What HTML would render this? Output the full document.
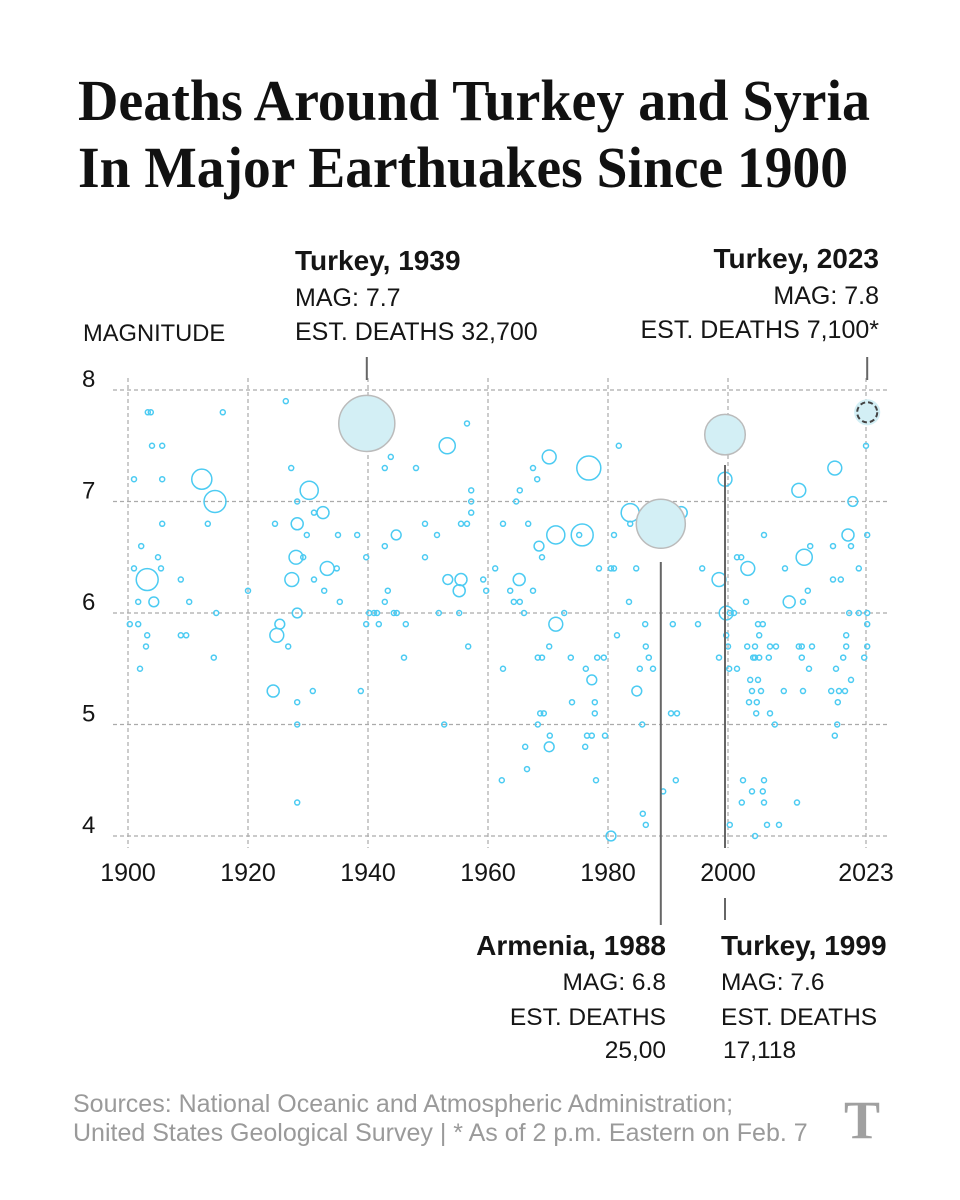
<!DOCTYPE html>
<html><head><meta charset="utf-8"><style>
html,body{margin:0;padding:0;background:#fff;}
svg{display:block;}
.t{font-family:"Liberation Sans",sans-serif;fill:#151515;}
</style></head><body>
<svg id="c" width="960" height="1200" viewBox="0 0 960 1200">
<text x="78" y="120" textLength="792" lengthAdjust="spacingAndGlyphs" style="font-family:'Liberation Serif',serif;font-weight:bold;font-size:58px;fill:#111">Deaths Around Turkey and Syria</text>
<text x="78" y="187" textLength="770" lengthAdjust="spacingAndGlyphs" style="font-family:'Liberation Serif',serif;font-weight:bold;font-size:58px;fill:#111">In Major Earthuakes Since 1900</text>
<g id="grid"></g>
<g id="ticks"></g>
<text class="t" x="83" y="341" font-size="23.7">MAGNITUDE</text>
<g id="pts"></g>
<g id="ann">
<text class="t" x="295" y="270" font-size="28" font-weight="bold">Turkey, 1939</text>
<text class="t" x="295" y="306" font-size="25">MAG: 7.7</text>
<text class="t" x="295" y="340" font-size="25">EST. DEATHS 32,700</text>
<text class="t" x="879" y="268" font-size="28" font-weight="bold" text-anchor="end">Turkey, 2023</text>
<text class="t" x="879" y="304" font-size="25" text-anchor="end">MAG: 7.8</text>
<text class="t" x="879" y="338" font-size="25" text-anchor="end">EST. DEATHS 7,100*</text>
<text class="t" x="666" y="955" font-size="28" font-weight="bold" text-anchor="end">Armenia, 1988</text>
<text class="t" x="666" y="990" font-size="24.5" text-anchor="end">MAG: 6.8</text>
<text class="t" x="666" y="1025" font-size="24.5" text-anchor="end">EST. DEATHS</text>
<text class="t" x="666" y="1058" font-size="24.5" text-anchor="end">25,00</text>
<text class="t" x="721" y="955" font-size="28" font-weight="bold">Turkey, 1999</text>
<text class="t" x="721" y="990" font-size="24.5">MAG: 7.6</text>
<text class="t" x="721" y="1025" font-size="24.5">EST. DEATHS</text>
<text class="t" x="723" y="1058" font-size="24.5">17,118</text>
</g>
<text class="t" x="73" y="1112" font-size="25" style="fill:#9a9a9a">Sources: National Oceanic and Atmospheric Administration;</text>
<text class="t" x="73" y="1141" font-size="25" style="fill:#9a9a9a">United States Geological Survey | * As of 2 p.m. Eastern on Feb. 7</text>
<text x="862" y="1138" font-size="54" text-anchor="middle" style="font-family:'Liberation Serif',serif;font-weight:bold;fill:#a0a0a0">T</text>
</svg>
<script>
const xTicks = [1900,1920,1940,1960,1980,2000,2023];
const xTickLabels = ["1900","1920","1940","1960","1980","2000","2023"];
const yTicks = [8,7,6,5,4];
const years = [
1926.3,
1903.3,1903.8,1915.8,
1956.5,
1904,1905.7,1953.2,1981.8,2023,
1943.8,1970.2,
1927.2,1942.8,1948,1967.5,1976.8,2017.8,
1901,1905.7,1912.3,1968.2,1999.5,
1930.2,1957.2,1965.3,2011.8,
1914.5,1928.2,1957.2,1964.7,2020.8,
1931,1932.5,1957.2,1983.7,1992.2,
1905.7,1913.3,1924.5,1928.2,1949.5,1955.5,1956.5,1962.5,1966.7,1983.7,
1929.8,1935,1938.2,1944.7,1951.5,1971.3,1975.2,1975.7,1981,2006,2020,2023.2,
1902.2,1942.8,1968.5,2013.7,2017.5,2020.5,
1905,1928,1929.2,1939.7,1949.5,1969,2001.5,2002.2,2012.7,
1901,1905.5,1933.2,1934.8,1961.2,1978.5,1980.5,1981,1984.7,1995.7,2003.3,2009.5,2021.8,
1903.2,1908.8,1927.3,1931,1953.3,1955.5,1959.2,1965.2,1998.5,2017.5,2018.8,
1920,1932.7,1943.3,1955.2,1959.7,1963.7,1967.5,2013.3,
1901.7,1904.3,1910.2,1935.3,1942.8,1964.3,1965.3,1983.5,2003,2010.2,2012.5,
1914.7,1928.2,1940.2,1941,1941.5,1944.3,1944.8,1951.8,1955.2,1966,1972.7,1999.7,2000.3,2001,2020.2,2021.8,2023.2,
1900.3,1901.7,1925.3,1939.7,1941.8,1946.3,1971.3,1986.2,1990.8,1995,2005,2005.8,2023.2,
1903.2,1908.8,1909.7,1924.8,1981.5,1999.7,2005.2,2019.7,
1903,1926.7,1956.7,1970.2,1986.3,2000,2003.2,2004.5,2007,2008,2011.8,2012.3,2014,2019.7,2023.2,
1914.3,1946,1968.3,1969,1973.8,1978.2,1979.3,1986.8,1998.5,2004.2,2004.5,2005.2,2006.8,2012.3,2019.2,2022.7,
1902,1962.5,1976.3,1985.3,1987.5,2000.2,2001.5,2013.5,2018,
1977.3,2003.7,2005,2020.5,
1924.2,1930.8,1938.8,1984.8,2004,2005.5,2009.3,2012.5,2017.2,2018.5,2019.5,
1928.2,1974,1977.8,2003.5,2004.8,2018.3,
1968.7,1969.3,1977.8,1990.5,1991.5,2004.7,2007,
1928.2,1952.7,1968.3,1985.7,2007.8,2018.2,
1970.3,1976.5,1977.3,1979.5,2017.8,
1966.2,1970.2,1976.2,
1966.5,
1962.3,1978,1991.3,2002.5,2006,
1989.2,2004,2005.8,
1928.2,2002.3,2006,2011.5,
1985.8,
1986.3,2000.3,2006.5,2008.5,
1980.5,2004.5
];
const mags = [
7.9,
7.8,7.8,7.8,
7.7,
7.5,7.5,7.5,7.5,7.5,
7.4,7.4,
7.3,7.3,7.3,7.3,7.3,7.3,
7.2,7.2,7.2,7.2,7.2,
7.1,7.1,7.1,7.1,
7.0,7.0,7.0,7.0,7.0,
6.9,6.9,6.9,6.9,6.9,
6.8,6.8,6.8,6.8,6.8,6.8,6.8,6.8,6.8,6.8,
6.7,6.7,6.7,6.7,6.7,6.7,6.7,6.7,6.7,6.7,6.7,6.7,
6.6,6.6,6.6,6.6,6.6,6.6,
6.5,6.5,6.5,6.5,6.5,6.5,6.5,6.5,6.5,
6.4,6.4,6.4,6.4,6.4,6.4,6.4,6.4,6.4,6.4,6.4,6.4,6.4,
6.3,6.3,6.3,6.3,6.3,6.3,6.3,6.3,6.3,6.3,6.3,
6.2,6.2,6.2,6.2,6.2,6.2,6.2,6.2,
6.1,6.1,6.1,6.1,6.1,6.1,6.1,6.1,6.1,6.1,6.1,
6.0,6.0,6.0,6.0,6.0,6.0,6.0,6.0,6.0,6.0,6.0,6.0,6.0,6.0,6.0,6.0,6.0,
5.9,5.9,5.9,5.9,5.9,5.9,5.9,5.9,5.9,5.9,5.9,5.9,5.9,
5.8,5.8,5.8,5.8,5.8,5.8,5.8,5.8,
5.7,5.7,5.7,5.7,5.7,5.7,5.7,5.7,5.7,5.7,5.7,5.7,5.7,5.7,5.7,
5.6,5.6,5.6,5.6,5.6,5.6,5.6,5.6,5.6,5.6,5.6,5.6,5.6,5.6,5.6,5.6,
5.5,5.5,5.5,5.5,5.5,5.5,5.5,5.5,5.5,
5.4,5.4,5.4,5.4,
5.3,5.3,5.3,5.3,5.3,5.3,5.3,5.3,5.3,5.3,5.3,
5.2,5.2,5.2,5.2,5.2,5.2,
5.1,5.1,5.1,5.1,5.1,5.1,5.1,
5.0,5.0,5.0,5.0,5.0,5.0,
4.9,4.9,4.9,4.9,4.9,
4.8,4.8,4.8,
4.6,
4.5,4.5,4.5,4.5,4.5,
4.4,4.4,4.4,
4.3,4.3,4.3,4.3,
4.2,
4.1,4.1,4.1,4.1,
4.0,4.0
];
const deaths = [
0,
0,0,0,
0,
0,0,2700,0,0,
0,2000,
0,0,0,0,6000,2000,
0,0,4200,0,2000,
3400,0,0,2000,
5000,0,0,0,1000,
0,1500,0,3400,1500,
0,0,0,1500,0,0,0,0,0,0,
0,0,0,1000,0,3400,0,5000,0,0,1500,0,
0,0,1000,0,0,0,
0,2000,0,0,0,0,0,0,2700,
0,0,2000,0,0,0,0,0,0,0,2000,0,0,
5000,0,2000,0,1000,1500,0,1500,2000,0,0,
0,0,0,1500,0,0,0,0,
0,1000,0,0,0,0,0,0,0,1500,0,
0,1000,0,0,0,0,0,0,0,0,0,2000,0,0,0,0,0,
0,0,1000,0,0,0,2000,0,0,0,0,0,0,
0,0,0,2000,0,0,0,0,
0,0,0,0,0,0,0,0,0,0,0,0,0,0,0,
0,0,0,0,0,0,0,0,0,0,0,0,0,0,0,0,
0,0,0,0,0,0,0,0,0,
1000,0,0,0,
1500,0,0,1000,0,0,0,0,0,0,0,
0,0,0,0,0,0,
0,0,0,0,0,0,0,
0,0,0,0,0,0,
0,0,0,0,0,
0,1000,0,
0,
0,0,0,0,0,
0,0,0,
0,0,0,0,
0,
0,0,0,0,
1000,0
];
const hlYears = [1939.8,1999.5,1988.8];
const hlMags = [7.7,7.6,6.8];
const hlDeaths = [32700,17118,25000];
const latestYear = 2023.2, latestMag = 7.8, latestDeaths = 7100;

const NS="http://www.w3.org/2000/svg";
const xS = y => 128 + (y-1900)*6.0;
const yS = m => 390 + (8-m)*111.5;
const rS = d => Math.max(2.5, 0.155*Math.sqrt(d));
function mk(tag, attrs, parent){const e=document.createElementNS(NS,tag);for(const k in attrs)e.setAttribute(k,attrs[k]);parent.appendChild(e);return e;}
const grid=document.getElementById('grid'), ticks=document.getElementById('ticks'), pts=document.getElementById('pts'), ann=document.getElementById('ann');
xTicks.forEach((t,i)=>{
  const l=mk('line',{x1:xS(t),x2:xS(t),y1:378,y2:848,stroke:'#aaa','stroke-width':1.2,'stroke-dasharray':'4 3'},grid);
  
  
  const tx=mk('text',{x:xS(t),y:881,'font-size':25,'text-anchor':'middle',class:'t'},ticks);
  tx.textContent=xTickLabels[i];
  
  
});
yTicks.forEach(t=>{
  const l=mk('line',{x1:113,x2:890,y1:yS(t),y2:yS(t),stroke:'#aaa','stroke-width':1.2,'stroke-dasharray':'4 3'},grid);
  
  
  const tx=mk('text',{x:82,y:yS(t)-3,'font-size':24,class:'t'},ticks);
  tx.textContent=String(t);
  
  
});
years.forEach((y,i)=>{
  const c=mk('circle',{cx:xS(y),cy:yS(mags[i]),r:rS(deaths[i]),fill:'none',stroke:'#4ccbf2','stroke-width':1.5},pts);
  
  
});
hlYears.forEach((y,i)=>{
  const c=mk('circle',{cx:xS(y),cy:yS(hlMags[i]),r:rS(hlDeaths[i]),fill:'#d3eff5',stroke:'#bbb','stroke-width':1.5},pts);
  
  
});
const lc=mk('circle',{cx:xS(latestYear),cy:yS(latestMag),r:rS(latestDeaths),fill:'#d3eff5'},pts);


const ld=mk('circle',{cx:xS(latestYear),cy:yS(latestMag),r:rS(latestDeaths)-3,fill:'none',stroke:'#444','stroke-width':2,'stroke-dasharray':'5 3'},pts);


function leader(x,y1,y2){const l=mk('line',{x1:x,x2:x,y1:y1,y2:y2,stroke:'#666','stroke-width':2},ann);
  
  }
leader(xS(1939.8),357,380);
leader(xS(latestYear),357,380);
leader(xS(1988.8),562,925);
leader(xS(1999.5),465,848);
leader(xS(1999.5),898,920);
</script>
</body></html>
